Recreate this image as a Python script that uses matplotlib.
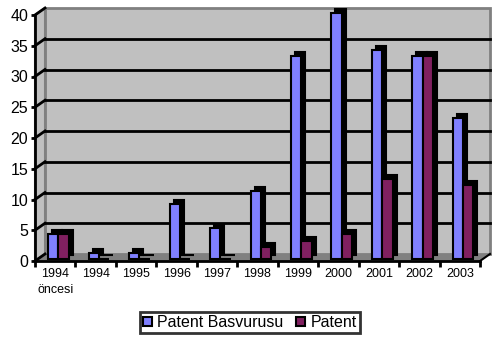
import matplotlib
matplotlib.use('Agg')
import matplotlib.pyplot as plt
import matplotlib.transforms as mtransforms
from matplotlib.patches import Rectangle, Polygon, Patch
import numpy as np

# data
years = ['1994\nöncesi', '1994', '1995', '1996', '1997', '1998',
         '1999', '2000', '2001', '2002', '2003']
basvuru = [4, 1, 1, 9, 5, 11, 33, 40, 34, 33, 23]
patent = [4, 0, 0, 0, 0, 2, 3, 4, 13, 33, 12]
yticks = [0, 5, 10, 15, 20, 25, 30, 35, 40]

plt.rcParams['font.family'] = ['Liberation Sans', 'DejaVu Sans']

W, H = 503, 337
fig = plt.figure(figsize=(W / 100, H / 100), dpi=100)
ax = fig.add_axes([35 / W, 76 / H, 445 / W, 246 / H])
ax.set_xlim(-0.5, len(years) - 0.5)
ax.set_ylim(0, 40)
ax.patch.set_visible(False)

# 3d depth of the plot box, in pixels
dx_px, dy_px = 10, 7
dxa = dx_px / 445
dya = dy_px / 246

def shift(tr, dx, dy):
    return tr + mtransforms.ScaledTranslation(dx / 100, dy / 100, fig.dpi_scale_trans)

# walls and floor
back = shift(ax.transAxes, dx_px, dy_px)
ax.add_patch(Rectangle((0, 0), 1, 1, transform=back, fc='#C0C0C0',
                       ec='#808080', lw=2, clip_on=False, zorder=0))
ax.add_patch(Polygon([(0, 0), (0, 1), (dxa, 1 + dya), (dxa, dya)], closed=True,
                     transform=ax.transAxes, fc='#C0C0C0', ec='#808080', lw=1.5,
                     clip_on=False, zorder=0.5))
ax.add_patch(Polygon([(0, 0), (1, 0), (1 + dxa, dya), (dxa, dya)], closed=True,
                     transform=ax.transAxes, fc='#808080', ec='none',
                     clip_on=False, zorder=0.6))
ax.plot([1, 1 + dxa], [0, dya], transform=ax.transAxes, color='black',
        lw=1.5, clip_on=False, zorder=0.7)

# gridlines on back wall and side wall
for v in yticks[1:-1]:
    ax.plot([-0.5, len(years) - 0.5], [v, v], transform=shift(ax.transData, dx_px, dy_px),
            color='black', lw=2, clip_on=False, zorder=0.8)
for v in yticks:
    ax.plot([0, dxa], [v / 40, v / 40 + dya], transform=ax.transAxes,
            color='black', lw=2, clip_on=False, zorder=0.8)

# bars with a black depth block behind them
x = np.arange(len(years))
face = shift(ax.transData, 3, 2)
depth = shift(ax.transData, 7, 6)
for vals, off, w, col in [(basvuru, -0.12, 0.25, '#8080FF'),
                          (patent, 0.135, 0.26, '#802060')]:
    ax.bar(x + off, vals, w, color='black', edgecolor='black', lw=1.5,
           transform=depth, clip_on=False, zorder=2)
    ax.bar(x + off, vals, w, color=col, edgecolor='black', lw=1.5,
           transform=face, clip_on=False, zorder=2)

# axes
for s in ['top', 'right']:
    ax.spines[s].set_visible(False)
for s in ['left', 'bottom']:
    ax.spines[s].set_linewidth(2)
    ax.spines[s].set_zorder(3)
ax.set_yticks(yticks)
ax.tick_params(axis='y', length=3, width=2, labelsize=11.5, pad=2)
ax.set_xticks(np.arange(len(years) + 1) - 0.5)
ax.set_xticklabels([])
ax.tick_params(axis='x', which='major', length=4, width=2)
ax.set_xticks(x, minor=True)
ax.set_xticklabels(years, minor=True, fontsize=9, linespacing=1.5, va='top')
ax.tick_params(axis='x', which='minor', length=0, pad=5)

handles = [Patch(fc='#8080FF', ec='black', lw=1.5, label='Patent Basvurusu'),
           Patch(fc='#802060', ec='black', lw=1.5, label='Patent')]
leg = fig.legend(handles=handles, loc='center', bbox_to_anchor=(250 / W, 1 - 322.5 / H),
                 ncol=2, fontsize=11.5, frameon=True, fancybox=False,
                 handlelength=0.55, handleheight=0.55, handletextpad=0.35,
                 columnspacing=0.8, borderpad=0.2, borderaxespad=0)
leg.get_frame().set_edgecolor('black')
leg.get_frame().set_linewidth(2)

fig.savefig('out.png', dpi=100, facecolor='white')
